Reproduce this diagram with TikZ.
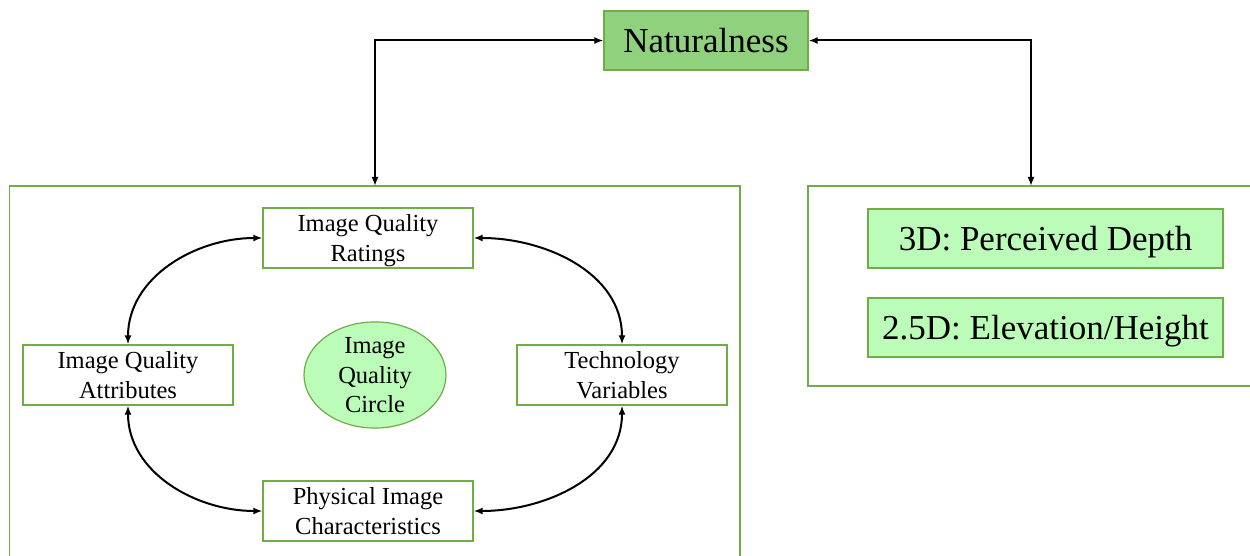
\documentclass[tikz,border=0pt]{standalone}
\usepackage{fontspec}
\setmainfont{Liberation Serif}
\usetikzlibrary{arrows.meta,shapes.geometric}
\definecolor{bordergreen}{HTML}{70AD47}
\definecolor{midgreen}{HTML}{8FD17C}
\definecolor{lightgreen}{HTML}{BBFCB8}
\tikzset{
  smallbox/.style={draw=bordergreen, line width=1.2pt, fill=white, minimum width=210pt, minimum height=60pt, inner sep=0pt, text depth=0pt, align=center, font=\fontsize{24.5}{30}\selectfont},
  bigtext/.style={draw=bordergreen, line width=1.2pt, minimum height=59pt, inner sep=0pt, text depth=0pt, align=center, font=\fontsize{35}{40}\selectfont},
  conn/.style={line width=2pt, {Latex[length=9pt,width=7pt]}-{Latex[length=9pt,width=7pt]}},
  frame/.style={draw=bordergreen, line width=1.2pt}
}
\begin{document}
\begin{tikzpicture}[x=1pt,y=1pt]
\useasboundingbox (0,0) rectangle (1250,556);
% frames
\draw[frame] (9.5,-10) -- (9.5,370) -- (740,370) -- (740,-10);
\draw[frame] (1265,170) -- (808,170) -- (808,370) -- (1265,370);
\coordinate (lt) at (375,370);
\coordinate (rt) at (1031,370);
% top node
\node[bigtext, fill=midgreen, minimum width=204pt] (nat) at (706,515.5) {Naturalness};
% right boxes
\node[bigtext, fill=lightgreen, minimum width=355pt] (d3) at (1045.5,317.5) {3D: Perceived Depth};
\node[bigtext, fill=lightgreen, minimum width=355pt] (d25) at (1045.5,228.5) {2.5D: Elevation/Height};
% circle nodes
\node[smallbox] (rat) at (368,318) {Image Quality\\Ratings};
\node[smallbox] (att) at (128,181) {Image Quality\\Attributes};
\node[smallbox] (tech) at (622,181) {Technology\\Variables};
\node[smallbox] (phys) at (368,45) {Physical Image\\Characteristics};
\node[ellipse, draw=bordergreen, line width=1.2pt, fill=lightgreen, minimum width=142pt, minimum height=102pt, inner sep=0pt, text depth=0pt, align=center, font=\fontsize{24.5}{29.5}\selectfont] (iqc) at (375,181) {Image\\Quality\\Circle};
% connectors
\draw[conn] (nat.west) -| (lt);
\draw[conn] (nat.east) -| (rt);
\draw[conn] (rat.west) to[out=180,in=90] (att.north);
\draw[conn] (rat.east) to[out=0,in=90] (tech.north);
\draw[conn] (att.south) to[out=270,in=180] (phys.west);
\draw[conn] (tech.south) to[out=270,in=0] (phys.east);
\end{tikzpicture}
\end{document}
